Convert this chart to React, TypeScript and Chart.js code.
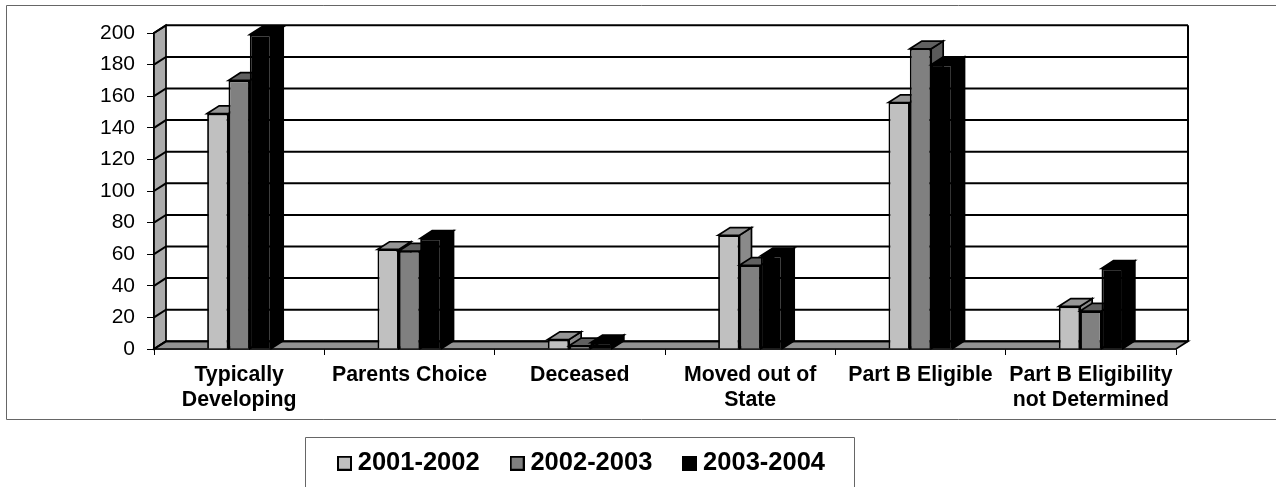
import React, { useEffect, useRef } from "react";
import { Chart, registerables } from "chart.js";

Chart.register(...registerables);

const categories = [
  ["Typically", "Developing"],
  "Parents Choice",
  "Deceased",
  ["Moved out of", "State"],
  "Part B Eligible",
  ["Part B Eligibility", "not Determined"],
];
const series2001 = [149, 63, 6, 72, 156, 27];
const series2002 = [170, 62, 2, 53, 190, 24];
const series2003 = [199, 70, 4, 59, 180, 51];
const seriesNames = ["2001-2002", "2002-2003", "2003-2004"];
const yTicksMax = 200;
const yTicksStep = 20;

const FONT = "'Liberation Sans', Arial, sans-serif";
const DX = 12;
const DY = 7.7;
const INK = "#000000";
const fronts = ["#c0c0c0", "#808080", "#000000"];
const tops = ["#969696", "#606060", "#000000"];
const sides = ["#8a8a8a", "#5a5a5a", "#000000"];

function swatch(fill: string) {
  const c = document.createElement("canvas");
  c.width = 15;
  c.height = 15;
  const x = c.getContext("2d")!;
  x.fillStyle = fill;
  x.fillRect(1, 1, 13, 13);
  x.strokeStyle = "#000";
  x.lineWidth = 2;
  x.strokeRect(1, 1, 13, 13);
  return c;
}

function poly(ctx: CanvasRenderingContext2D, pts: number[][], fill: string, stroke = INK, lw = 1.7) {
  ctx.beginPath();
  pts.forEach((p, i) => (i ? ctx.lineTo(p[0], p[1]) : ctx.moveTo(p[0], p[1])));
  ctx.closePath();
  ctx.fillStyle = fill;
  ctx.fill();
  ctx.lineWidth = lw;
  ctx.strokeStyle = stroke;
  ctx.stroke();
}

const scene = {
  id: "scene",
  afterLayout(chart: any) {
    const lg = chart.legend;
    const w = lg.right - lg.left;
    lg.left = 584.5 - w / 2;
    lg.right = lg.left + w;
    lg.top = 413.5;
    lg.bottom = lg.top + lg.height;
  },
  beforeDraw(chart: any) {
    const { ctx, width, height } = chart;
    ctx.save();
    ctx.strokeStyle = "#666666";
    ctx.lineWidth = 1;
    ctx.beginPath();
    ctx.moveTo(width, 5.5);
    ctx.lineTo(6.5, 5.5);
    ctx.lineTo(6.5, 419.5);
    ctx.lineTo(width, 419.5);
    ctx.moveTo(305.5, height);
    ctx.lineTo(305.5, 437.5);
    ctx.lineTo(854.5, 437.5);
    ctx.lineTo(854.5, height);
    ctx.stroke();
    ctx.restore();
  },
  beforeDatasetsDraw(chart: any) {
    const { ctx, chartArea: a, scales } = chart;
    const y = scales.y;
    const y0 = y.getPixelForValue(0);
    const yMax = y.getPixelForValue(yTicksMax);
    ctx.save();
    poly(ctx, [[a.left, y0], [a.left + DX, y0 - DY], [a.left + DX, yMax - DY], [a.left, yMax]], "#ababab");
    poly(ctx, [[a.left, y0], [a.left + DX, y0 - DY], [a.right + DX, y0 - DY], [a.right, y0]], "#929292");
    ctx.strokeStyle = INK;
    ctx.lineWidth = 2;
    for (const t of y.ticks) {
      const p = y.getPixelForValue(t.value);
      ctx.beginPath();
      ctx.moveTo(a.left, p);
      ctx.lineTo(a.left + DX, p - DY);
      ctx.lineTo(a.right + DX, p - DY);
      ctx.stroke();
    }
    ctx.beginPath();
    ctx.moveTo(a.right + DX, yMax - DY);
    ctx.lineTo(a.right + DX, y0 - DY);
    ctx.stroke();
    ctx.restore();
  },
  // Bars are painted left to right so that each one overlaps the side of its neighbour.
  beforeDatasetDraw() {
    return false;
  },
  afterDatasetsDraw(chart: any) {
    const { ctx } = chart;
    seriesNames.forEach((_, i) => {
      const meta = chart.getDatasetMeta(i);
      ctx.save();
      for (const b of meta.data) {
        const l = b.x - b.width / 2;
        const r = b.x + b.width / 2;
        poly(ctx, [[r, b.base], [r + DX, b.base - DY], [r + DX, b.y - DY], [r, b.y]], sides[i]);
        poly(ctx, [[l, b.y], [l + DX, b.y - DY], [r + DX, b.y - DY], [r, b.y]], tops[i]);
      }
      ctx.restore();
      meta.controller.draw();
    });
  },
};

export default function App() {
  const ref = useRef<HTMLCanvasElement>(null);
  useEffect(() => {
    const swatches = fronts.map(swatch);
    const values = [series2001, series2002, series2003];
    const chart = new Chart(ref.current!, {
      type: "bar",
      data: {
        labels: categories,
        datasets: seriesNames.map((label, i) => ({
          label,
          data: values[i],
          backgroundColor: fronts[i],
          borderColor: "#000000",
          borderWidth: 1.8,
          categoryPercentage: 0.376,
          barPercentage: 1,
        })),
      },
      options: {
        animation: false,
        responsive: false,
        events: [],
        layout: { padding: { top: 33, right: 100, left: 0, bottom: 0 } },
        plugins: {
          tooltip: { enabled: false },
          title: { display: false },
          legend: {
            display: true,
            position: "bottom",
            labels: {
              color: "#000",
              font: { family: FONT, size: 25.5, weight: "bold" },
              usePointStyle: true,
              pointStyleWidth: 1,
              padding: 37,
              generateLabels: (c: any) =>
                Chart.defaults.plugins.legend.labels.generateLabels(c).map((it: any, i: number) => ({
                  ...it,
                  pointStyle: swatches[i],
                })),
            },
          },
        },
        scales: {
          x: {
            offset: true,
            afterFit: (s: any) => {
              s.height = 138 - s.chart.legend.height;
            },
            border: { color: INK, width: 1.5 },
            grid: { drawOnChartArea: false, drawTicks: true, tickLength: 6, color: "#000", offset: true },
            ticks: {
              color: "#000",
              maxRotation: 0,
              autoSkip: false,
              padding: 8,
              font: { family: FONT, size: 21.3, weight: "bold", lineHeight: 1.17 },
            },
          },
          y: {
            min: 0,
            max: yTicksMax,
            afterFit: (s: any) => {
              s.width = 154;
            },
            border: { color: INK, width: 1.5 },
            grid: { drawOnChartArea: false, drawTicks: true, tickLength: 7, color: "#000" },
            ticks: {
              stepSize: yTicksStep,
              color: "#000",
              padding: 12,
              font: { family: FONT, size: 21 },
            },
          },
        },
      } as any,
      plugins: [scene],
    });
    return () => chart.destroy();
  }, []);
  return (
    <div style={{ position: "absolute", left: 0, top: 0, width: 1276, height: 487, overflow: "hidden", background: "#fff" }}>
      <canvas ref={ref} width={1276} height={487} style={{ display: "block", filter: "blur(0.45px)" }} />
    </div>
  );
}
